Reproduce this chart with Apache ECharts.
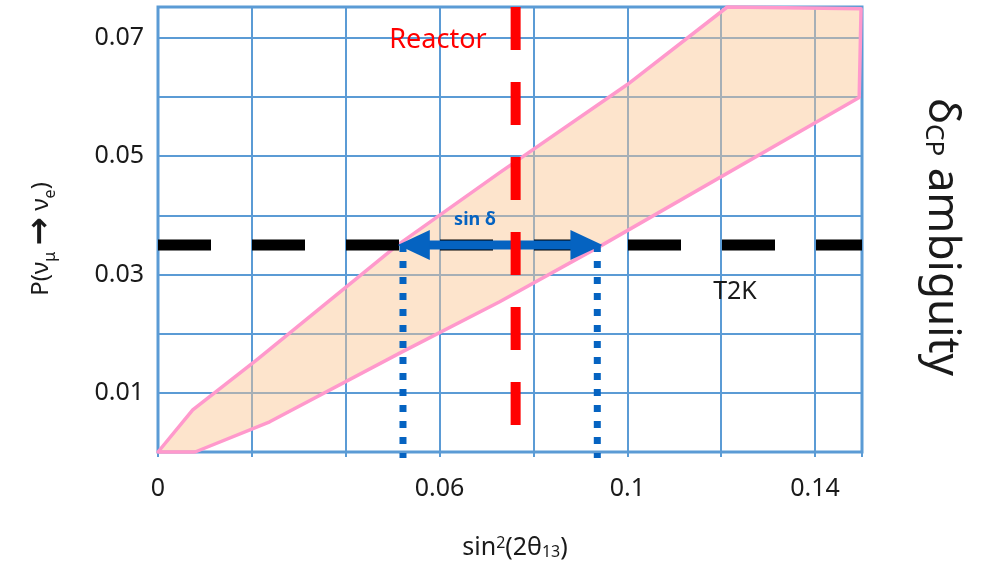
<!DOCTYPE html>
<html>
<head>
<meta charset="utf-8">
<script src="https://cdn.jsdelivr.net/npm/echarts@6/dist/echarts.min.js"></script>
<style>
  html, body { margin: 0; padding: 0; background: #fff; }
  #chart { width: 989px; height: 570px; }
</style>
</head>
<body>
<div id="chart"></div>
<script>
// tick labels that are shown (grid lines every 0.02 / 0.01)
var xTickLabels = ['0', '0.06', '0.1', '0.14']
var yTickLabels = ['0.01', '0.03', '0.05', '0.07']

// allowed band outline (upper edge left->right, then lower edge right->left)
var bandX = [0, 0.0074, 0.0211, 0.0511, 0.0728, 0.1, 0.1213, 0.1498, 0.1494, 0.0947, 0.0728, 0.0515, 0.0238, 0.0079]
var bandY = [0, 0.0071, 0.0156, 0.035, 0.0472, 0.0621, 0.0752, 0.0749, 0.0599, 0.035, 0.0254, 0.0167, 0.0051, 0]

var reactorX = 0.0762
var reactorY = [0.0752, 0]
var t2kX = [0, 0.15]
var t2kP = 0.035
var sinDeltaX = [0.0511, 0.0947]
var dottedX = [0.0522, 0.0936]
var dottedY = [0.035, -0.001]

var gridBlue = '#5b9bd5'
var arrowBlue = '#0563c1'
var font = '"Noto Sans", sans-serif'

var myChart = echarts.init(document.getElementById('chart'))

var dottedSeries = dottedX.map(function (x) {
  return {
    type: 'line',
    data: dottedY.map(function (y) { return [x, y] }),
    symbol: 'none',
    clip: false,
    silent: true,
    z: 4,
    lineStyle: { color: arrowBlue, width: 7, type: [7, 9], cap: 'butt' }
  }
})

var option = {
  backgroundColor: '#fff',
  animation: false,
  grid: {
    left: 158, right: 127, top: 7, bottom: 118,
    show: true, borderColor: gridBlue, borderWidth: 3, backgroundColor: 'transparent'
  },
  xAxis: {
    type: 'value', min: 0, max: 0.15, interval: 0.02,
    axisLine: { show: false },
    axisTick: { show: true, length: 5, lineStyle: { color: gridBlue, width: 2 } },
    splitLine: { show: true, lineStyle: { color: gridBlue, width: 2 } },
    axisLabel: {
      margin: 24, color: '#1a1a1a', fontSize: 25, fontFamily: font,
      formatter: function (v) {
        var s = String(+v.toFixed(2))
        return xTickLabels.indexOf(s) >= 0 ? s : ''
      }
    }
  },
  yAxis: {
    type: 'value', min: 0, max: 0.0752, interval: 0.01,
    axisLine: { show: false },
    axisTick: { show: false },
    splitLine: { show: true, lineStyle: { color: gridBlue, width: 2 } },
    axisLabel: {
      margin: 14, color: '#1a1a1a', fontSize: 25, fontFamily: font,
      formatter: function (v) {
        var s = String(+v.toFixed(2))
        return yTickLabels.indexOf(s) >= 0 ? s : ''
      }
    }
  },
  graphic: [
    { type: 'text', z: 20, x: 438, y: 40, style: { text: 'Reactor', fill: '#ff0000', font: '27px ' + font, align: 'center', verticalAlign: 'middle' } },
    { type: 'text', z: 20, x: 475, y: 220, style: { text: 'sin δ', fill: arrowBlue, font: 'bold 18px ' + font, align: 'center', verticalAlign: 'middle' } },
    { type: 'text', z: 20, x: 735, y: 292, style: { text: 'T2K', fill: '#1a1a1a', font: '25px ' + font, align: 'center', verticalAlign: 'middle' } },
    {
      type: 'text', z: 20, x: 515, y: 548,
      style: {
        text: 'sin{sup|2}(2θ{sub|13})', fill: '#1a1a1a', font: '25px ' + font,
        align: 'center', verticalAlign: 'middle',
        rich: {
          sup: { fontSize: 16, fontFamily: font, fill: '#1a1a1a', verticalAlign: 'top', lineHeight: 14 },
          sub: { fontSize: 16, fontFamily: font, fill: '#1a1a1a', verticalAlign: 'bottom', lineHeight: 14 }
        }
      }
    },
    {
      type: 'text', z: 20, x: 41, y: 239, rotation: Math.PI / 2,
      style: {
        text: 'P(ν{sub|μ} {ar|→} ν{sub|e})', fill: '#1a1a1a', font: '24px ' + font,
        align: 'center', verticalAlign: 'middle',
        rich: {
          sub: { fontSize: 16, fontFamily: font, fill: '#1a1a1a', verticalAlign: 'bottom', lineHeight: 14 },
          ar: { fontSize: 34, fontWeight: 'bold', fontFamily: '"DejaVu Sans", sans-serif', fill: '#1a1a1a' }
        }
      }
    },
    {
      type: 'text', z: 20, x: 942, y: 237, rotation: -Math.PI / 2,
      style: {
        text: 'δ{sub|CP} ambiguity', fill: '#1a1a1a', font: '44px ' + font,
        align: 'center', verticalAlign: 'middle',
        rich: {
          sub: { fontSize: 26, fontFamily: font, fill: '#1a1a1a', verticalAlign: 'bottom', lineHeight: 26 }
        }
      }
    }
  ],
  series: [
    {
      type: 'custom',
      silent: true,
      z: 2,
      data: [0],
      renderItem: function (params, api) {
        var pts = bandX.map(function (x, i) { return api.coord([x, bandY[i]]) })
        return {
          type: 'polygon',
          shape: { points: pts },
          style: { fill: 'rgba(251,198,146,0.47)', stroke: '#ff99cc', lineWidth: 3.5, lineJoin: 'round' }
        }
      }
    },
    {
      type: 'line',
      data: t2kX.map(function (x) { return [x, t2kP] }),
      symbol: 'none', silent: true, z: 3,
      lineStyle: { color: '#000', width: 11, type: [53, 41], cap: 'butt' }
    },
    {
      type: 'custom',
      silent: true,
      z: 4,
      data: [0],
      renderItem: function (params, api) {
        var a = api.coord([sinDeltaX[0], t2kP])
        var b = api.coord([sinDeltaX[1], t2kP])
        var head = 32, half = 15, shaft = 4.5
        return {
          type: 'group',
          children: [
            { type: 'rect', shape: { x: a[0] + head - 1, y: a[1] - shaft, width: b[0] - a[0] - 2 * head + 2, height: 2 * shaft }, style: { fill: arrowBlue } },
            { type: 'polygon', shape: { points: [a, [a[0] + head, a[1] - half], [a[0] + head, a[1] + half]] }, style: { fill: arrowBlue } },
            { type: 'polygon', shape: { points: [b, [b[0] - head, b[1] - half], [b[0] - head, b[1] + half]] }, style: { fill: arrowBlue } }
          ]
        }
      }
    }
  ].concat(dottedSeries).concat([
    {
      type: 'line',
      data: reactorY.map(function (y) { return [reactorX, y] }),
      symbol: 'none', silent: true, z: 5,
      lineStyle: { color: '#ff0000', width: 10, type: [43, 32], cap: 'butt' }
    }
  ])
}

myChart.setOption(option, true)
</script>
</body>
</html>
